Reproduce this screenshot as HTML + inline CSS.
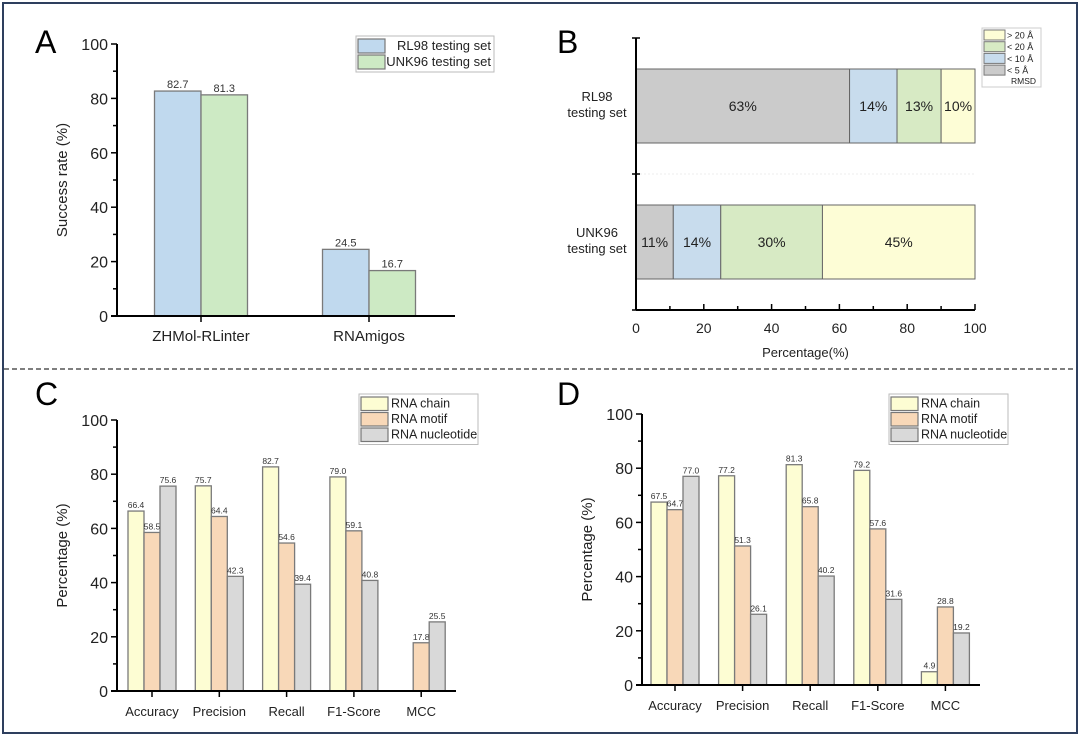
<!DOCTYPE html>
<html><head><meta charset="utf-8"><style>
body{margin:0;background:#fff}
svg{display:block;font-family:"Liberation Sans",Arial,sans-serif}
</style></head><body>
<svg id="s" width="1080" height="736" viewBox="0 0 1080 736">
<rect x="3" y="3" width="1074" height="730" fill="none" stroke="#2e3f5e" stroke-width="2"/>
<line x1="4" y1="369" x2="1076" y2="369" stroke="#333" stroke-width="1.3" stroke-dasharray="5,3"/>
<text x="35" y="53" font-size="32">A</text>
<text x="557" y="53" font-size="32">B</text>
<text x="35" y="405" font-size="32">C</text>
<text x="557" y="405" font-size="32">D</text>
</svg>
<script>
const NS='http://www.w3.org/2000/svg';
const svg=document.getElementById('s');
function mk(tag,attrs,parent,txt){const e=document.createElementNS(NS,tag);for(const k in attrs)e.setAttribute(k,attrs[k]);if(txt!==undefined)e.textContent=txt;(parent||svg).appendChild(e);return e;}

// Panel A data
const aCategories=['ZHMol-RLinter','RNAmigos'];
const aSeriesNames=['RL98 testing set','UNK96 testing set'];
const aRL98=[82.7,24.5];
const aUNK96=[81.3,16.7];
const aTicks=[0,20,40,60,80,100];
// Panel B data
const bCategories=['RL98 testing set','UNK96 testing set'];
const bLegend=['> 20 Å','< 20 Å','< 10 Å','<  5  Å'];
const bLt5=[63,11];
const bLt10=[14,14];
const bLt20=[13,30];
const bGt20=[10,45];
const bTicks=[0,20,40,60,80,100];
// Panel C data
const cdCategories=['Accuracy','Precision','Recall','F1-Score','MCC'];
const cdSeriesNames=['RNA chain','RNA motif','RNA nucleotide'];
const cChain=[66.4,75.7,82.7,79.0,null];
const cMotif=[58.5,64.4,54.6,59.1,17.8];
const cNucleotide=[75.6,42.3,39.4,40.8,25.5];
// Panel D data
const dChain=[67.5,77.2,81.3,79.2,4.9];
const dMotif=[64.7,51.3,65.8,57.6,28.8];
const dNucleotide=[77.0,26.1,40.2,31.6,19.2];

function vbarChart(o){
  const g=mk('g',{});
  
  
  const y=v=>o.y0-(v/100)*(o.y0-o.y100);
  for(let v=0;v<=100;v+=10){const maj=v%20===0;
    const t=mk('line',{x1:o.ax-(maj?6:4),x2:o.ax,y1:y(v),y2:y(v),stroke:'#000','stroke-width':1.5},g);
    }
  aTicks.forEach(v=>{const t=mk('text',{x:o.ax-9,y:y(v)+6,'font-size':16,'text-anchor':'end',fill:'#222'},g,String(v));
    });
  const yt=mk('text',{transform:`translate(${o.ax-50},${(o.y0+o.y100)/2}) rotate(-90)`,'font-size':15,'text-anchor':'middle',fill:'#222'},g,o.ytitle);
  
  const ns=o.series.length;
  o.cats.forEach((c,i)=>{
    const cx=o.c0+i*o.step;
    o.series.forEach((s,j)=>{const v=s[i]; if(v===null)return;
      const x=cx-ns*o.bw/2+j*o.bw;
      const r=mk('rect',{x:x,y:y(v),width:o.bw,height:o.y0-y(v),fill:o.colors[j],stroke:'#7a7a7a','stroke-width':1.3},g);
      
      const l=mk('text',{x:x+o.bw/2,y:y(v)-3,'font-size':o.vfs,'text-anchor':'middle',fill:'#333'},g,v.toFixed(1));
      
    });
    const t=mk('line',{x1:cx,x2:cx,y1:o.y0,y2:o.y0+6,stroke:'#000','stroke-width':1.5},g);
    
    const lb=mk('text',{x:cx,y:o.y0+25,'font-size':o.cfs,'text-anchor':'middle',fill:'#222'},g,c);
    
  });
  const ax=mk('line',{x1:o.ax,x2:o.ax,y1:o.y100,y2:o.y0+1,stroke:'#000','stroke-width':2},g);
  
  const xx=mk('line',{x1:o.ax-6,x2:o.axEnd,y1:o.y0,y2:o.y0,stroke:'#000','stroke-width':2},g);
  
  const L=o.leg;const lg=mk('g',{},g);
  
  mk('rect',{x:L.x,y:L.y,width:L.w,height:L.rh*o.names.length+4,fill:'#fff',stroke:'#bbb','stroke-width':1},lg);
  o.names.forEach((n,j)=>{
    const e=mk('g',{},lg);
    
    mk('rect',{x:L.x+2,y:L.y+2+j*L.rh+1,width:27,height:L.rh-2,fill:o.colors[j],stroke:'#777','stroke-width':1.2},e);
    mk('text',{x:L.tx,y:L.y+2+j*L.rh+L.rh-4,'font-size':L.fs,'text-anchor':L.anchor,fill:'#222'},e,n);
  });
}
vbarChart({name:'panel-a-chart',cats:aCategories,series:[aRL98,aUNK96],names:aSeriesNames,colors:['#c0d9ee','#cdeac4'],
  ax:117,axEnd:455,y0:316,y100:44,c0:201,step:168,bw:46.5,vfs:11,cfs:15,ytitle:'Success rate (%)',
  leg:{x:356,y:36,w:138,rh:16,fs:13,tx:491,anchor:'end'}});
vbarChart({name:'panel-c-chart',cats:cdCategories,series:[cChain,cMotif,cNucleotide],names:cdSeriesNames,colors:['#fdfdd3','#f8d8b8','#d9d9d9'],
  ax:117,axEnd:456,y0:691,y100:420,c0:152,step:67.3,bw:16,vfs:8.5,cfs:13,ytitle:'Percentage (%)',
  leg:{x:359,y:394,w:119,rh:15.5,fs:12.5,tx:391,anchor:'start'}});
vbarChart({name:'panel-d-chart',cats:cdCategories,series:[dChain,dMotif,dNucleotide],names:cdSeriesNames,colors:['#fdfdd3','#f8d8b8','#d9d9d9'],
  ax:642,axEnd:980,y0:685,y100:414,c0:675,step:67.6,bw:16,vfs:8.5,cfs:13,ytitle:'Percentage (%)',
  leg:{x:889,y:394,w:119,rh:15.5,fs:12.5,tx:921,anchor:'start'}});

(function(){
  const g=mk('g',{});
  
  
  const ax=636,x100=975,yTop=38,yBot=310;
  const x=v=>ax+(v/100)*(x100-ax);
  const rowY=[69,205],bh=74;
  const segs=[bLt5,bLt10,bLt20,bGt20];
  const cols=['#cbcbcb','#c8dced','#d7eac4','#fdfdd6'];
  bCategories.forEach((c,i)=>{
    let acc=0;
    segs.forEach((s,j)=>{const v=s[i];
      const r=mk('rect',{x:x(acc),y:rowY[i],width:x(acc+v)-x(acc),height:bh,fill:cols[j],stroke:'#666','stroke-width':1},g);
      
      const t=mk('text',{x:(x(acc)+x(acc+v))/2,y:rowY[i]+bh/2+5,'font-size':14,'text-anchor':'middle',fill:'#222'},g,v+'%');
      
      acc+=v;});
    const parts=c.split(' ');
    const l1=mk('text',{x:597,y:rowY[i]+bh/2-5,'font-size':13,'text-anchor':'middle',fill:'#222'},g,parts[0]);
    
    const l2=mk('text',{x:597,y:rowY[i]+bh/2+11,'font-size':13,'text-anchor':'middle',fill:'#222'},g,parts.slice(1).join(' '));
    
  });
  mk('line',{x1:ax,x2:x100,y1:174,y2:174,stroke:'#eee','stroke-width':1,'stroke-dasharray':'2,2'},g);
  const ya=mk('line',{x1:ax,x2:ax,y1:yTop,y2:yBot,stroke:'#000','stroke-width':2},g);
  
  [yTop,174,yBot].forEach(yy=>mk('line',{x1:ax-4,x2:ax+4,y1:yy,y2:yy,stroke:'#000','stroke-width':1.5},g));
  const xa=mk('line',{x1:ax,x2:x100,y1:yBot,y2:yBot,stroke:'#000','stroke-width':2},g);
  
  for(let v=0;v<=100;v+=10){mk('line',{x1:x(v),x2:x(v),y1:yBot-(v%20?4:6),y2:yBot,stroke:'#000','stroke-width':1.5},g);}
  bTicks.forEach(v=>{const t=mk('text',{x:x(v),y:yBot+23,'font-size':14,'text-anchor':'middle',fill:'#222'},g,String(v));
    });
  const xt=mk('text',{x:(ax+x100)/2,y:357,'font-size':13,'text-anchor':'middle',fill:'#222'},g,'Percentage(%)');
  
  const lg=mk('g',{},g);
  
  mk('rect',{x:982,y:28,width:59,height:59,fill:'#fff',stroke:'#ccc','stroke-width':1},lg);
  const lc=['#fdfdd6','#d7eac4','#c8dced','#cbcbcb'];
  bLegend.forEach((n,j)=>{
    const e=mk('g',{},lg);
    
    mk('rect',{x:984,y:30+j*11.7,width:21,height:10,fill:lc[j],stroke:'#777','stroke-width':1},e);
    mk('text',{x:1007,y:38.5+j*11.7,'font-size':9,fill:'#222'},e,n);
  });
  mk('text',{x:1036,y:84,'font-size':8.5,'text-anchor':'end',fill:'#222'},lg,'RMSD');
})();
</script>
</body></html>
